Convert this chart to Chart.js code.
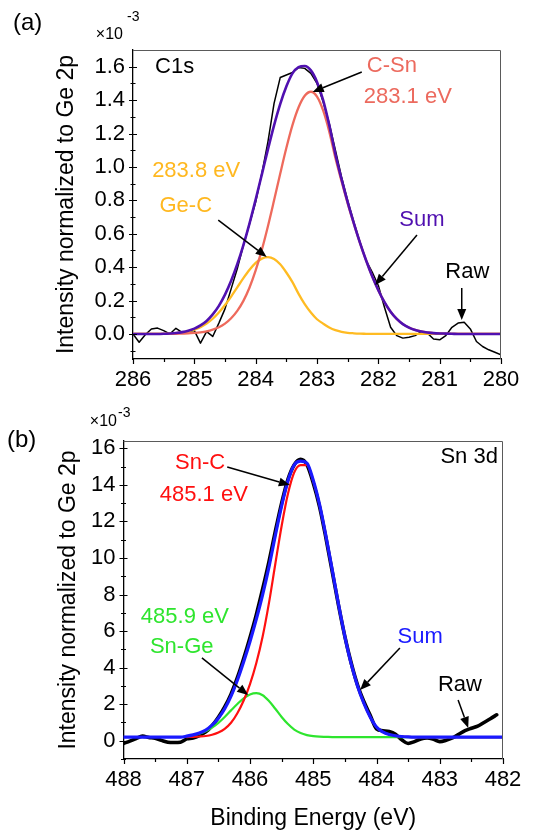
<!DOCTYPE html>
<html>
<head>
<meta charset="utf-8">
<title>XPS C 1s and Sn 3d</title>
<script src="https://cdn.jsdelivr.net/npm/chart.js@4.4.1/dist/chart.umd.min.js"></script>
<style>
  html, body { margin: 0; padding: 0; background: #fff; }
  #page { position: relative; width: 548px; height: 833px; overflow: hidden; }
  #page canvas { position: absolute; left: 0; display: block; }
</style>
</head>
<body>
<div id="page">
  <canvas id="chartC1s" width="548" height="405" style="top:0"></canvas>
  <canvas id="chartSn3d" width="548" height="428" style="top:405px"></canvas>
</div>
<script>
/**
 * XPS spectra, C 1s and Sn 3d, intensity normalized to Ge 2p (x 1e-3)
 */

// ---- C 1s ----
var energyC1s = [
  286.0, 285.9, 285.8, 285.7, 285.6, 285.5, 285.4, 285.3, 285.2, 285.1,
  285.0, 284.9, 284.8, 284.7, 284.6, 284.5, 284.4, 284.3, 284.2, 284.1,
  284.0, 283.9, 283.8, 283.7, 283.6, 283.5, 283.4, 283.3, 283.2, 283.1,
  283.0, 282.9, 282.8, 282.7, 282.6, 282.5, 282.4, 282.3, 282.2, 282.1,
  282.0, 281.9, 281.8, 281.7, 281.6, 281.5, 281.4, 281.3, 281.2, 281.1,
  281.0, 280.9, 280.8, 280.7, 280.6, 280.5, 280.4, 280.3, 280.2, 280.1,
  280.0
];
var rawC1s = [
  0.000, -0.050, -0.005, 0.030, 0.035, 0.020, 0.000, 0.034, 0.010, 0.015,
  0.020, -0.055, 0.014, -0.015, 0.065, 0.150, 0.270, 0.390, 0.530, 0.660,
  0.790, 0.960, 1.150, 1.380, 1.535, 1.550, 1.565, 1.595, 1.590, 1.560,
  1.500, 1.390, 1.260, 1.100, 0.940, 0.800, 0.670, 0.550, 0.440, 0.370,
  0.290, 0.160, 0.040, -0.010, -0.025, -0.020, -0.010, 0.014, 0.005, -0.030,
  -0.035, -0.010, 0.040, 0.065, 0.070, 0.030, -0.045, -0.075, -0.095, -0.110,
  -0.125
];
var sumC1s = [
  0.000, 0.000, 0.000, 0.000, 0.000, 0.001, 0.003, 0.006, 0.011, 0.019,
  0.032, 0.051, 0.078, 0.117, 0.168, 0.235, 0.318, 0.417, 0.532, 0.662,
  0.805, 0.954, 1.105, 1.249, 1.376, 1.481, 1.560, 1.597, 1.604, 1.578,
  1.509, 1.400, 1.250, 1.076, 0.927, 0.789, 0.664, 0.547, 0.441, 0.345,
  0.262, 0.190, 0.133, 0.090, 0.059, 0.038, 0.024, 0.015, 0.009, 0.005,
  0.003, 0.002, 0.001, 0.000, 0.000, 0.000, 0.000, 0.000, 0.000, 0.000,
  0.000
];
var cSnC1s = [
  0.000, 0.000, 0.000, 0.000, 0.000, 0.000, 0.000, 0.001, 0.002, 0.003,
  0.006, 0.010, 0.016, 0.026, 0.040, 0.062, 0.094, 0.138, 0.198, 0.278,
  0.380, 0.503, 0.645, 0.800, 0.959, 1.113, 1.250, 1.357, 1.426, 1.450,
  1.421, 1.338, 1.211, 1.053, 0.914, 0.782, 0.660, 0.545, 0.440, 0.345,
  0.262, 0.190, 0.133, 0.090, 0.059, 0.038, 0.024, 0.015, 0.009, 0.005,
  0.003, 0.002, 0.001, 0.000, 0.000, 0.000, 0.000, 0.000, 0.000, 0.000,
  0.000
];
var geCC1s = [
  0.000, 0.000, 0.000, 0.000, 0.000, 0.001, 0.003, 0.005, 0.009, 0.016,
  0.026, 0.041, 0.062, 0.091, 0.128, 0.173, 0.224, 0.279, 0.334, 0.384,
  0.425, 0.451, 0.460, 0.449, 0.417, 0.368, 0.310, 0.240, 0.178, 0.128,
  0.088, 0.062, 0.039, 0.023, 0.013, 0.007, 0.004, 0.002, 0.001, 0.000,
  0.000, 0.000, 0.000, 0.000, 0.000, 0.000, 0.000, 0.000, 0.000, 0.000,
  0.000, 0.000, 0.000, 0.000, 0.000, 0.000, 0.000, 0.000, 0.000, 0.000,
  0.000
];
var xTicksC1s = [286, 285, 284, 283, 282, 281, 280];
var xMinorC1s = [285.5, 284.5, 283.5, 282.5, 281.5, 280.5];
var yTicksC1s = [0.0, 0.2, 0.4, 0.6, 0.8, 1.0, 1.2, 1.4, 1.6];
var yMinorC1s = [-0.1, 0.1, 0.3, 0.5, 0.7, 0.9, 1.1, 1.3, 1.5];

var notesC1s = [
  { text: 'C1s', x: 285.64, y: 1.598, color: '#000000', align: 'left' },
  { text: 'C-Sn', x: 281.78, y: 1.604, color: '#ec6a5e' },
  { text: '283.1 eV', x: 281.52, y: 1.419, color: '#ec6a5e' },
  { text: '283.8 eV', x: 284.97, y: 0.976, color: '#ffb820' },
  { text: 'Ge-C', x: 285.14, y: 0.766, color: '#ffb820' },
  { text: 'Sum', x: 281.29, y: 0.682, color: '#5010b0' },
  { text: 'Raw', x: 280.55, y: 0.371, color: '#000000' }
];
var arrowsC1s = [
  { from: [282.27, 1.568], to: [283.07, 1.449] },
  { from: [284.61, 0.682], to: [283.82, 0.461] },
  { from: [281.37, 0.592], to: [282.05, 0.293] },
  { from: [280.64, 0.275], to: [280.64, 0.083] }
];

// ---- Sn 3d ----
var energySn3d = [
  488.0, 487.9, 487.8, 487.7, 487.6, 487.5, 487.4, 487.3, 487.2, 487.1,
  487.0, 486.9, 486.8, 486.7, 486.6, 486.5, 486.4, 486.3, 486.2, 486.1,
  486.0, 485.9, 485.8, 485.7, 485.6, 485.5, 485.4, 485.3, 485.2, 485.1,
  485.0, 484.9, 484.8, 484.7, 484.6, 484.5, 484.4, 484.3, 484.2, 484.1,
  484.0, 483.9, 483.8, 483.7, 483.6, 483.5, 483.4, 483.3, 483.2, 483.1,
  483.0, 482.9, 482.8, 482.7, 482.6, 482.5, 482.4, 482.3, 482.2, 482.1,
  482.0
];
var rawSn3d = [
  -0.15, -0.02, 0.12, 0.25, 0.18, 0.13, 0.02, -0.08, -0.10, -0.08,
  0.10, 0.15, 0.28, 0.48, 0.82, 1.28, 1.85, 2.55, 3.45, 4.50,
  5.65, 6.90, 8.30, 9.80, 11.45, 13.00, 14.30, 15.10, 15.40, 15.10,
  14.10, 12.80, 11.10, 9.25, 7.40, 5.70, 4.25, 3.05, 2.15, 1.40,
  0.65, 0.55, 0.50, 0.35, 0.05, -0.15, -0.05, 0.10, 0.15, 0.08,
  -0.05, 0.02, 0.15, 0.35, 0.55, 0.68, 0.80, 1.00, 1.20, 1.42,
  null
];
var sumSn3d = [
  0.20, 0.20, 0.20, 0.20, 0.20, 0.20, 0.20, 0.20, 0.20, 0.20,
  0.25, 0.32, 0.42, 0.58, 0.85, 1.23, 1.75, 2.44, 3.31, 4.32,
  5.43, 6.65, 7.99, 9.51, 11.22, 12.85, 14.22, 15.10, 15.30, 15.19,
  14.25, 12.92, 11.21, 9.35, 7.45, 5.70, 4.20, 3.00, 2.05, 1.30,
  0.75, 0.48, 0.34, 0.27, 0.23, 0.21, 0.20, 0.20, 0.20, 0.20,
  0.20, 0.20, 0.20, 0.20, 0.20, 0.20, 0.20, 0.20, 0.20, 0.20,
  0.20
];
var snCSn3d = [
  null, null, null, null, null, null, null, null, null, null,
  0.20, 0.21, 0.23, 0.26, 0.33, 0.45, 0.65, 0.98, 1.50, 2.20,
  3.10, 4.25, 5.70, 7.54, 9.67, 11.75, 13.51, 14.69, 15.08, 15.08,
  14.20, 12.90, 11.20, 9.35, 7.45, 5.70, 4.20, 3.00, 2.05, 1.30,
  0.75, 0.48, 0.34, 0.27, 0.23, 0.21, 0.20, 0.20, 0.20, 0.20,
  0.20, 0.20, 0.20, 0.20, 0.20, 0.20, 0.20, 0.20, 0.20, 0.20,
  0.20
];
var snGeSn3d = [
  null, null, null, null, null, null, null, null, null, null,
  0.25, 0.31, 0.39, 0.52, 0.72, 0.98, 1.30, 1.66, 2.01, 2.32,
  2.53, 2.60, 2.49, 2.17, 1.75, 1.30, 0.91, 0.61, 0.42, 0.31,
  0.25, 0.22, 0.21, 0.20, 0.20, 0.20, 0.20, 0.20, 0.20, 0.20,
  0.20, 0.20, 0.20, 0.20, 0.20, 0.20, 0.20, 0.20, 0.20, 0.20,
  0.20, 0.20, 0.20, 0.20, 0.20, 0.20, 0.20, 0.20, 0.20, 0.20,
  0.20
];
var xTicksSn3d = [488, 487, 486, 485, 484, 483, 482];
var xMinorSn3d = [487.5, 486.5, 485.5, 484.5, 483.5, 482.5];
var yTicksSn3d = [0, 2, 4, 6, 8, 10, 12, 14, 16];
var yMinorSn3d = [-1, 1, 3, 5, 7, 9, 11, 13, 15];

var notesSn3d = [
  { text: 'Sn 3d', x: 482.08, y: 15.52, color: '#000000', align: 'right' },
  { text: 'Sn-C', x: 486.79, y: 15.20, color: '#ff1010' },
  { text: '485.1 eV', x: 486.73, y: 13.45, color: '#ff1010' },
  { text: '485.9 eV', x: 487.03, y: 6.77, color: '#2ee52e' },
  { text: 'Sn-Ge', x: 487.08, y: 5.13, color: '#2ee52e' },
  { text: 'Sum', x: 483.31, y: 5.67, color: '#1a1aff' },
  { text: 'Raw', x: 482.68, y: 3.05, color: '#000000' }
];
var arrowsSn3d = [
  { from: [486.36, 14.98], to: [485.37, 13.99] },
  { from: [486.76, 4.53], to: [486.03, 2.50] },
  { from: [483.63, 5.07], to: [484.26, 2.77] },
  { from: [482.71, 2.23], to: [482.55, 0.70] }
];

var FONT = '"Liberation Sans", Arial, Helvetica, sans-serif';
Chart.defaults.font.family = FONT;
Chart.defaults.color = '#000';

/**
 * Build {x, y} points for one spectrum
 */
function points(energy, values) {
  return energy.map(function(e, i) {
    return { x: e, y: values[i] };
  });
}

function line(energy, values, color, width, tension) {
  return {
    data: points(energy, values),
    borderColor: color,
    borderWidth: width,
    pointRadius: 0,
    fill: false,
    spanGaps: false,
    tension: tension,
    cubicInterpolationMode: tension ? 'monotone' : 'default',
    borderJoinStyle: 'round',
    borderCapStyle: 'round'
  };
}

function arrow(ctx, x1, y1, x2, y2) {
  var ang = Math.atan2(y2 - y1, x2 - x1);
  var len = 11, half = 4.5;
  var bx = x2 - len * Math.cos(ang), by = y2 - len * Math.sin(ang);
  ctx.beginPath();
  ctx.moveTo(x1, y1);
  ctx.lineTo(bx, by);
  ctx.stroke();
  ctx.beginPath();
  ctx.moveTo(x2, y2);
  ctx.lineTo(bx + half * Math.sin(ang), by - half * Math.cos(ang));
  ctx.lineTo(bx - half * Math.sin(ang), by + half * Math.cos(ang));
  ctx.closePath();
  ctx.fill();
}

/**
 * Frame, minor/major tick marks, peak labels and arrows
 */
function decor(cfg) {
  return {
    id: 'decor',
    afterDraw: function(chart) {
      var ctx = chart.ctx;
      var a = chart.chartArea;
      var xs = chart.scales.x, ys = chart.scales.y;
      ctx.save();

      ctx.strokeStyle = '#5a5a5a';
      ctx.lineWidth = 1;
      ctx.beginPath();
      ctx.moveTo(a.left, a.top + 0.5);
      ctx.lineTo(a.right - 0.5, a.top + 0.5);
      ctx.lineTo(a.right - 0.5, a.bottom);
      ctx.stroke();

      ctx.strokeStyle = '#000';
      ctx.lineWidth = 1.2;
      ctx.beginPath();
      cfg.yTicks.forEach(function(v) {
        var p = Math.round(ys.getPixelForValue(v)) + 0.5;
        ctx.moveTo(a.left - 4, p); ctx.lineTo(a.left + 4, p);
      });
      cfg.yMinor.forEach(function(v) {
        var p = Math.round(ys.getPixelForValue(v)) + 0.5;
        ctx.moveTo(a.left - 2.5, p); ctx.lineTo(a.left + 2.5, p);
      });
      cfg.xTicks.forEach(function(v) {
        var p = Math.round(xs.getPixelForValue(v)) + 0.5;
        ctx.moveTo(p, a.bottom); ctx.lineTo(p, a.bottom + 5);
      });
      cfg.xMinor.forEach(function(v) {
        var p = Math.round(xs.getPixelForValue(v)) + 0.5;
        ctx.moveTo(p, a.bottom); ctx.lineTo(p, a.bottom + 3);
      });
      ctx.stroke();

      ctx.textBaseline = 'middle';
      ctx.font = '22px ' + FONT;
      cfg.notes.forEach(function(n) {
        ctx.fillStyle = n.color;
        ctx.textAlign = n.align || 'center';
        ctx.fillText(n.text, xs.getPixelForValue(n.x), ys.getPixelForValue(n.y));
      });

      ctx.strokeStyle = '#000';
      ctx.fillStyle = '#000';
      ctx.lineWidth = 1.5;
      cfg.arrows.forEach(function(r) {
        arrow(ctx,
          xs.getPixelForValue(r.from[0]), ys.getPixelForValue(r.from[1]),
          xs.getPixelForValue(r.to[0]), ys.getPixelForValue(r.to[1]));
      });

      ctx.fillStyle = '#000';
      ctx.textAlign = 'left';
      ctx.font = '24px ' + FONT;
      ctx.fillText(cfg.panel, cfg.panelPos[0], cfg.panelPos[1]);

      ctx.textAlign = 'right';
      ctx.font = '16px ' + FONT;
      ctx.fillText('\u00d710', a.left + cfg.mult[0], a.top + cfg.mult[1]);
      ctx.textAlign = 'left';
      ctx.font = '14px ' + FONT;
      ctx.fillText('-3', a.left + cfg.sup[0], a.top + cfg.sup[1]);

      ctx.restore();
    }
  };
}

function makeChart(id, cfg) {
  return new Chart(document.getElementById(id), {
    type: 'line',
    data: { datasets: cfg.datasets },
    options: {
      responsive: false,
      animation: false,
      events: [],
      layout: { padding: { top: cfg.padTop, right: cfg.padRight, left: 0, bottom: 0 } },
      plugins: { legend: { display: false }, tooltip: { enabled: false } },
      scales: {
        x: {
          type: 'linear',
          reverse: true,
          min: cfg.xMin,
          max: cfg.xMax,
          afterBuildTicks: function(s) {
            s.ticks = cfg.xTicks.map(function(v) { return { value: v }; });
          },
          afterFit: function(s) { s.height = cfg.xHeight; },
          grid: { display: false, drawTicks: false },
          border: { display: true, color: '#000', width: 1.3 },
          ticks: {
            color: '#000', font: { size: 22 }, padding: 8,
            maxRotation: 0, autoSkip: false,
            callback: function(v) { return String(v); }
          },
          title: cfg.xTitle ? {
            display: true, text: cfg.xTitle, color: '#000',
            font: { size: 23 }, padding: { top: 0, bottom: 1 }
          } : { display: false }
        },
        y: {
          type: 'linear',
          min: cfg.yMin,
          max: cfg.yMax,
          afterBuildTicks: function(s) {
            s.ticks = cfg.yTicks.map(function(v) { return { value: v }; });
          },
          afterFit: function(s) { s.width = cfg.yWidth; },
          grid: { display: false, drawTicks: false },
          border: { display: true, color: '#000', width: 1.3 },
          ticks: {
            color: '#000', font: { size: 22 }, padding: 8,
            callback: cfg.yLabel
          },
          title: {
            display: true, text: 'Intensity normalized to Ge 2p', color: '#000',
            font: { size: 23 }, padding: { top: cfg.yTitlePad, bottom: 0 }
          }
        }
      }
    },
    plugins: [decor(cfg)]
  });
}

makeChart('chartC1s', {
  datasets: [
    line(energyC1s, sumC1s, '#5010b0', 2.6, 0.4),
    line(energyC1s, cSnC1s, '#ee6a5c', 2.3, 0.4),
    line(energyC1s, geCC1s, '#ffbb22', 2.3, 0.4),
    line(energyC1s, rawC1s, '#000000', 1.5, 0)
  ],
  xMin: 280, xMax: 286, yMin: -0.15, yMax: 1.7,
  xTicks: xTicksC1s, xMinor: xMinorC1s, yTicks: yTicksC1s, yMinor: yMinorC1s,
  yLabel: function(v) { return v.toFixed(1); },
  padTop: 50, padRight: 47, yWidth: 133, xHeight: 46, yTitlePad: 53,
  notes: notesC1s, arrows: arrowsC1s,
  panel: '(a)', panelPos: [13, 23], mult: [-10, -15], sup: [-6, -33]
});

makeChart('chartSn3d', {
  datasets: [
    line(energySn3d, sumSn3d, '#1a1aff', 3.2, 0.4),
    line(energySn3d, snCSn3d, '#ff1010', 2.2, 0.4),
    line(energySn3d, snGeSn3d, '#2ee52e', 2.2, 0.4),
    line(energySn3d, rawSn3d, '#000000', 3.6, 0.3)
  ],
  xMin: 482, xMax: 488, yMin: -1, yMax: 16.4,
  xTicks: xTicksSn3d, xMinor: xMinorSn3d, yTicks: yTicksSn3d, yMinor: yMinorSn3d,
  yLabel: function(v) { return String(v); },
  xTitle: 'Binding Energy (eV)',
  padTop: 36, padRight: 45, yWidth: 123.5, xHeight: 74, yTitlePad: 55,
  notes: notesSn3d, arrows: arrowsSn3d,
  panel: '(b)', panelPos: [7, 35], mult: [-6.5, -19], sup: [-5.5, -28]
});
</script>
</body>
</html>
